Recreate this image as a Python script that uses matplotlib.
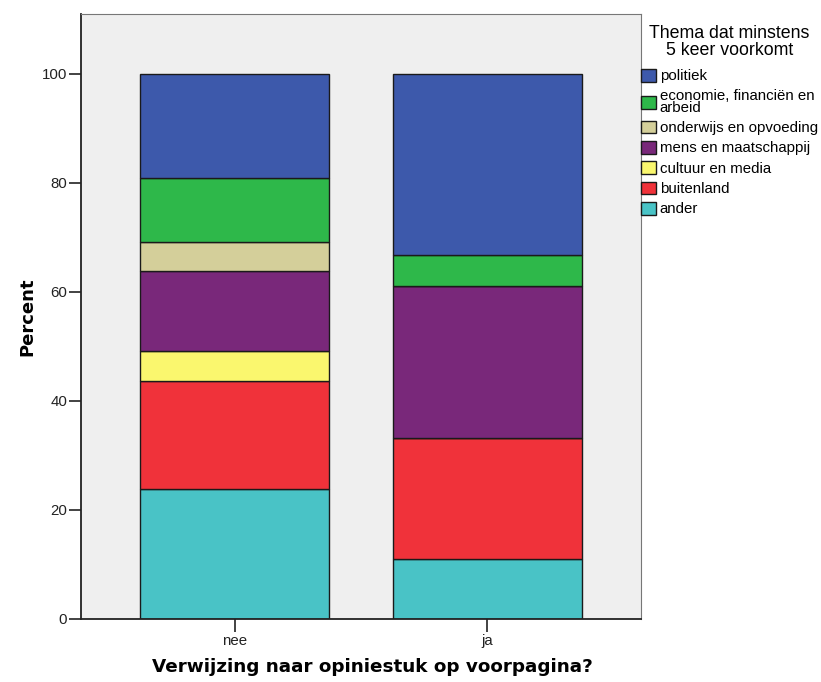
import numpy as np
import matplotlib
matplotlib.use("Agg")
import matplotlib.pyplot as plt
from matplotlib.patches import Patch

plt.rcParams['font.family'] = ['Liberation Sans', 'DejaVu Sans']

groups = ['nee', 'ja']
themes = ['ander', 'buitenland', 'cultuur en media', 'mens en maatschappij',
          'onderwijs en opvoeding', 'economie, financiën en\narbeid', 'politiek']
colors = ['#49C3C6', '#F0323A', '#FAF76E', '#79287A', '#D4CF9A', '#2EB84A', '#3D59AB']

# percentages per group (stack order bottom -> top)
ander = [23.9, 11.1]
buitenland = [19.8, 22.2]
cultuur = [5.5, 0.0]
mens = [14.7, 27.8]
onderwijs = [5.3, 0.0]
economie = [11.7, 5.6]
politiek = [19.1, 33.3]
values = [ander, buitenland, cultuur, mens, onderwijs, economie, politiek]

fig = plt.figure(figsize=(8.21, 6.82), dpi=100)
ax = fig.add_axes([81/821, 1-619/682, 560/821, 605/682])
ax.set_facecolor('#EFEFEF')

x = np.arange(len(groups))
bottom = np.zeros(len(groups))
for vals, c in zip(values, colors):
    vals = np.array(vals)
    ax.bar(x, vals, 0.75, bottom=bottom, color=c, edgecolor='#1a1a1a', linewidth=1.0)
    bottom += vals

ax.set_xlim(-0.611, 1.611)
ax.set_ylim(0, 111)
ax.set_yticks([0, 20, 40, 60, 80, 100])
ax.set_xticks(x)
ax.set_xticklabels(groups)
ax.tick_params(labelsize=10.8, colors='#222222', length=9, width=1.2)
ax.tick_params(axis='x', pad=2)
ax.tick_params(axis='y', pad=1)
for s in ['top', 'right']:
    ax.spines[s].set_color('#777777')
for s in ['left', 'bottom']:
    ax.spines[s].set_color('#222222')
    ax.spines[s].set_linewidth(1.3)

ax.set_ylabel('Percent', fontsize=13, fontweight='bold', family='DejaVu Sans', labelpad=4)
ax.set_xlabel('Verwijzing naar opiniestuk op voorpagina?', fontsize=13.2,
              fontweight='bold', family='DejaVu Sans', labelpad=6)
ax.xaxis.set_label_coords(0.52, -0.065)

handles = [Patch(facecolor=c, edgecolor='#1a1a1a', label=t)
           for t, c in zip(themes, colors)][::-1]
leg = fig.legend(handles=handles, loc='upper left', bbox_to_anchor=(641/821, 1-25/682),
                 title='Thema dat minstens\n5 keer voorkomt', frameon=False,
                 fontsize=10.8, title_fontsize=12.8, handlelength=1.0, handleheight=0.95,
                 handletextpad=0.25, labelspacing=0.38, borderaxespad=0, borderpad=0)
leg.get_title().set_multialignment('center')
leg.get_title().set_linespacing(1.0)
for t in leg.get_texts():
    t.set_linespacing(0.8)
leg._legend_box.sep = 7

fig.savefig('out.png', dpi=100)
